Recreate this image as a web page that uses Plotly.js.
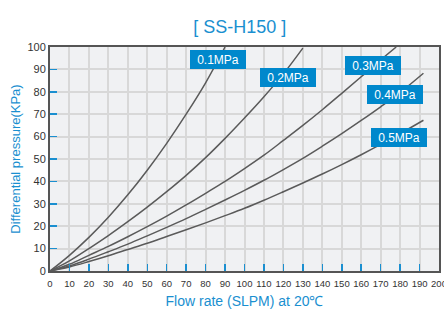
<!DOCTYPE html>
<html><head><meta charset="utf-8">
<script src="https://cdn.plot.ly/plotly-3.0.1.min.js"></script>
<style>html,body{margin:0;padding:0;background:#fff}#c{width:444px;height:309px}</style>
</head><body><div id="c"></div>
<script>
const x01 = [0,10,20,30,40,50,60,70,80,90];
const y01 = [0,7,15,24,34,45,57,70,84,100];
const x02 = [0,10,20,30,40,50,60,70,80,90,100,110,120,130];
const y02 = [0,4.5,10,15.8,22,28.5,35.4,42.7,50.6,59.2,68.3,77.8,88,99.5];
const x03 = [0,10,20,30,40,50,60,70,80,90,100,110,120,130,140,150,160,170,178];
const y03 = [0,3,7,11,15.3,19.8,24.5,29.5,34.7,40,45.7,51.7,58.3,65,72,79.3,86.7,94.2,100];
const x04 = [0,10,20,30,40,50,60,70,80,90,100,110,120,130,140,150,160,170,180,192];
const y04 = [0,2.3,5.3,8.6,12,15.7,19.5,23.4,27.5,31.7,36,40.5,45.3,50.3,55.7,61.3,67.2,73.3,79.7,88.3];
const x05 = [0,10,20,30,40,50,60,70,80,90,100,110,120,130,140,150,160,170,180,192];
const y05 = [0,1.8,4.2,6.8,9.6,12.4,15.4,18.4,21.5,24.7,28,31.6,35.4,39.3,43.3,47.5,51.9,56.5,61.3,67.3];
const labels = ['0.1MPa','0.2MPa','0.3MPa','0.4MPa','0.5MPa'];
const labelX = [86.2,122.6,166,177.4,179.4];
const labelY = [94.3,86.6,91.8,78.9,59.8];
const xTicks = [0,10,20,30,40,50,60,70,80,90,100,110,120,130,140,150,160,170,180,190,200];
const yTicks = [0,10,20,30,40,50,60,70,80,90,100];

const blue = '#1a8fd0';
const series = [[x01,y01],[x02,y02],[x03,y03],[x04,y04],[x05,y05]];
const data = series.map((s,i)=>({x:s[0],y:s[1],mode:'lines',type:'scatter',name:labels[i],
  line:{color:'#5a5a5a',width:1.5,shape:'spline',smoothing:1},hoverinfo:'skip'}));
const annotations = labels.map((t,i)=>({x:labelX[i],y:labelY[i],xref:'x',yref:'y',text:t,showarrow:false,
  bgcolor:'#0088cc',font:{color:'#ffffff',size:12,family:'Liberation Sans, Arial, sans-serif'},
  width:54,height:17,borderpad:1,borderwidth:0}));
const layout = {
  width:444,height:309,
  margin:{l:50,r:5,t:47,b:38},
  paper_bgcolor:'#ffffff',plot_bgcolor:'#f0f1f3',
  showlegend:false,
  font:{family:'Liberation Sans, Arial, sans-serif',color:'#333333'},
  title:{text:'[ SS-H150 ]',font:{size:18,color:blue},x:0.54,xanchor:'center',y:0.915,yanchor:'middle'},
  xaxis:{range:[0,200],tickvals:xTicks,ticktext:xTicks.map(String),ticks:'inside',ticklen:7,tickwidth:1.5,tickcolor:blue,
    showgrid:true,gridcolor:'#d8d8d8',gridwidth:2,zeroline:false,showline:true,linecolor:'#555555',linewidth:2,mirror:true,
    tickfont:{size:9.5,color:'#333'},ticklabeloverflow:'allow',ticklabelstandoff:3,
    title:{text:'Flow rate (SLPM) at 20℃',font:{size:14,color:blue},standoff:11}},
  yaxis:{range:[0,100],tickvals:yTicks,ticktext:yTicks.map(String),ticks:'inside',ticklen:7,tickwidth:1.5,tickcolor:blue,
    showgrid:true,gridcolor:'#d8d8d8',gridwidth:2,zeroline:false,showline:true,linecolor:'#555555',linewidth:2,mirror:true,
    tickfont:{size:11,color:'#333'},
    title:{text:'Differential pressure(KPa)',font:{size:13,color:blue},standoff:4}},
  annotations:annotations
};
Plotly.newPlot('c',data,layout,{staticPlot:true,displayModeBar:false});
</script></body></html>
